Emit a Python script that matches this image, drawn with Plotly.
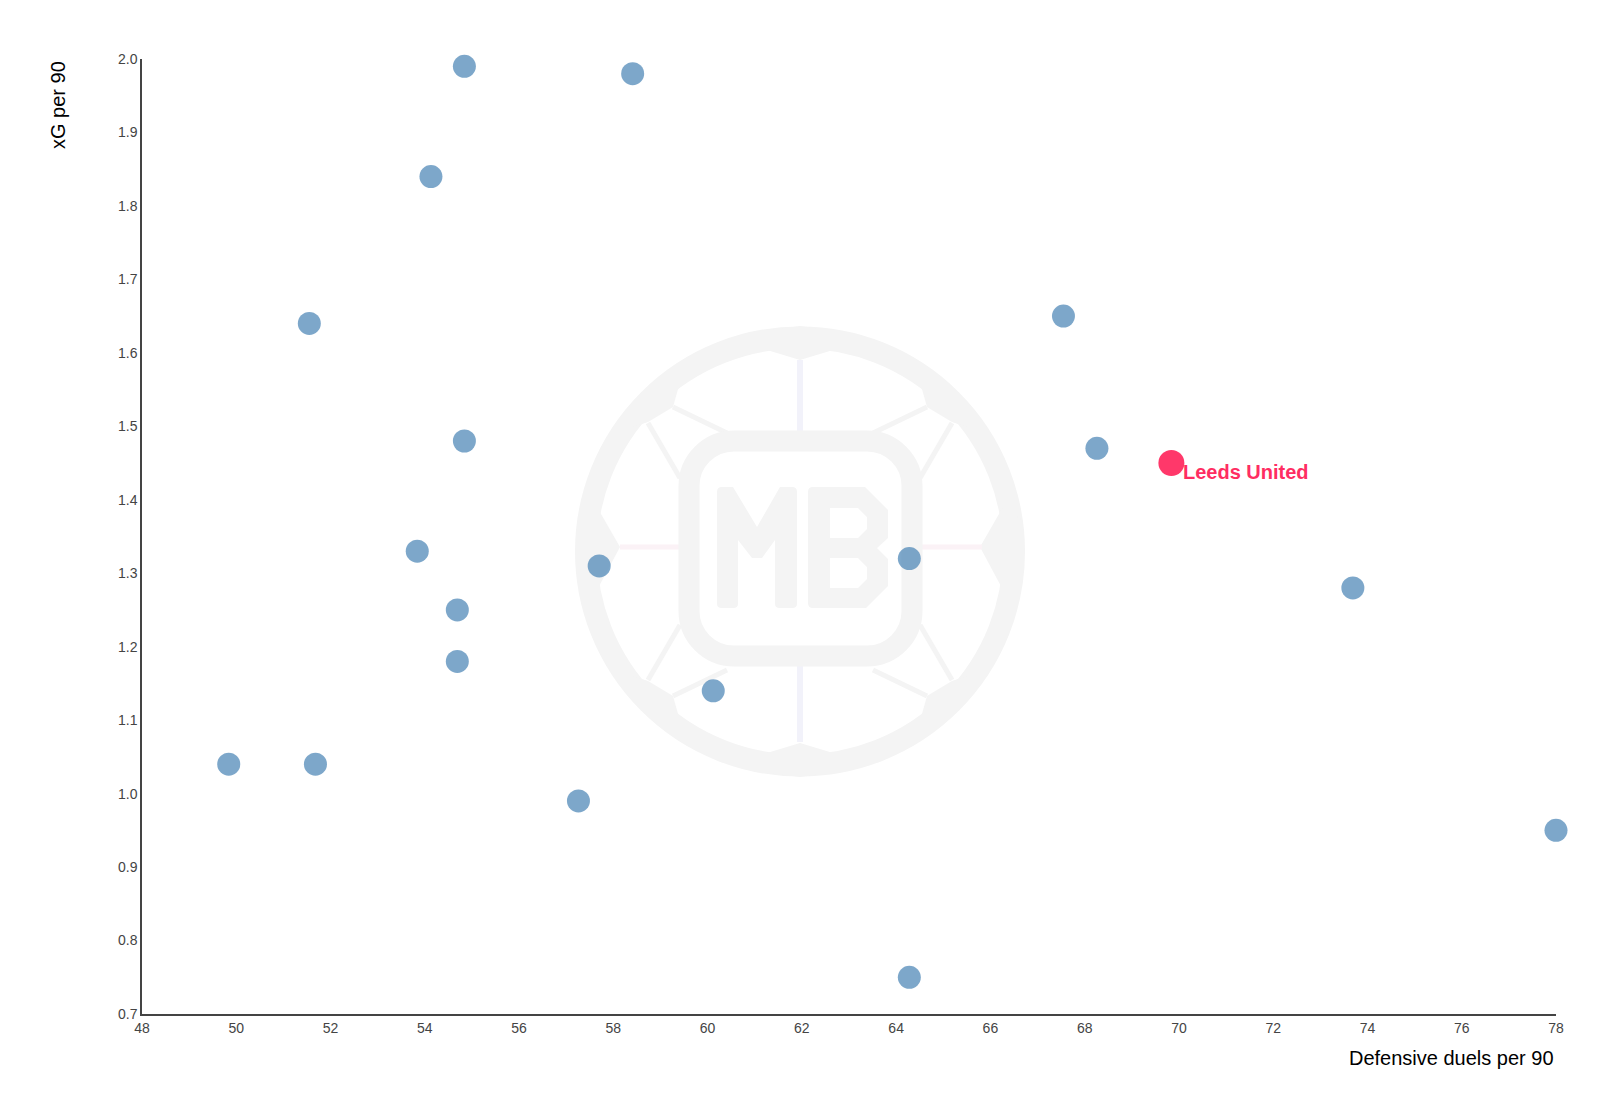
import base64
import plotly.graph_objects as go

# ---- data ----
duels = [54.84, 58.41, 54.13, 51.55, 54.84, 53.84, 57.70, 54.69, 54.69, 60.12,
         49.84, 51.68, 57.26, 64.28, 64.28, 67.55, 68.26, 73.69, 78.00]
xg = [1.99, 1.98, 1.84, 1.64, 1.48, 1.33, 1.31, 1.25, 1.18, 1.14,
      1.04, 1.04, 0.99, 1.32, 0.75, 1.65, 1.47, 1.28, 0.95]
highlight_team = "Leeds United"
highlight_duels = [69.84]
highlight_xg = [1.45]

x_range = [48, 78]
y_range = [0.7, 2.0]
x_ticks = list(range(48, 80, 2))
y_ticks = [0.7, 0.8, 0.9, 1.0, 1.1, 1.2, 1.3, 1.4, 1.5, 1.6, 1.7, 1.8, 1.9, 2.0]

W, H = 1600, 1102
OFF = 8  # page offset of the figure (body margin)
ML, MR, MT, MB = 134, 52, 51, 96
PW, PH = W - ML - MR, H - MT - MB

# ---- watermark logo (svg drawn in page pixel space, shifted into figure space) ----
G = "#f4f4f4"
svg = f'''<svg xmlns="http://www.w3.org/2000/svg" width="{W}" height="{H}" viewBox="0 0 {W} {H}">
<g transform="translate({-OFF},{-OFF})">
<circle cx="800" cy="551.5" r="214" fill="none" stroke="{G}" stroke-width="22"/>
<polygon fill="{G}" points="757,347 800,360 843,347 850,333 800,326 750,333"/>
<polygon fill="{G}" points="757,756 800,743 843,756 850,770 800,777 750,770"/>
<polygon fill="{G}" points="597,507 620,547 597,590 580,580 578,520"/>
<polygon fill="{G}" points="1003,507 980,547 1003,590 1020,580 1022,520"/>
<polygon fill="{G}" points="630,428 648,422 673,407 680,382 660,390 640,408"/>
<polygon fill="{G}" points="970,428 952,422 927,407 920,382 940,390 960,408"/>
<polygon fill="{G}" points="630,675 648,681 673,696 680,721 660,713 640,695"/>
<polygon fill="{G}" points="970,675 952,681 927,696 920,721 940,713 960,695"/>
<g stroke="{G}" stroke-width="5">
<line x1="673" y1="407" x2="727" y2="433"/><line x1="648" y1="423" x2="680" y2="478"/>
<line x1="927" y1="407" x2="873" y2="433"/><line x1="952" y1="423" x2="920" y2="478"/>
<line x1="673" y1="696" x2="727" y2="670"/><line x1="648" y1="680" x2="680" y2="625"/>
<line x1="927" y1="696" x2="873" y2="670"/><line x1="952" y1="680" x2="920" y2="625"/>
</g>
<line x1="800" y1="360" x2="800" y2="431" stroke="#f2f2fa" stroke-width="6"/>
<line x1="800" y1="666" x2="800" y2="742" stroke="#f2f2fa" stroke-width="6"/>
<line x1="620" y1="547" x2="679" y2="547" stroke="#fbf2f6" stroke-width="5"/>
<line x1="922" y1="547" x2="982" y2="547" stroke="#fbf2f6" stroke-width="5"/>
<rect x="689" y="441" width="223" height="215" rx="45" fill="none" stroke="{G}" stroke-width="21"/>
<path fill="{G}" d="M717,492 Q717,487 722,487 L733,487 L757,527 L780,487 L792,487 Q797,487 797,492 L797,604 Q797,608 792,608 L780,608 Q775,608 775,604 L775,540 L762,558 L752,558 L738,540 L738,604 Q738,608 733,608 L722,608 Q717,608 717,604 Z"/>
<path fill="{G}" fill-rule="evenodd" d="M813,487 L865,487 L888,510 L888,538 L877,548 L888,559 L888,586 L866,608 L813,608 Q808,608 808,603 L808,492 Q808,487 813,487 Z M830,508 L858,508 L867,517 L867,529 L858,538 L830,538 Z M830,558 L858,558 L867,567 L867,579 L858,588 L830,588 Z"/>
</g>
</svg>'''
svg_uri = "data:image/svg+xml;base64," + base64.b64encode(svg.encode()).decode()

fig = go.Figure()
fig.add_trace(go.Scatter(
    x=duels, y=xg, mode="markers", cliponaxis=False,
    marker=dict(size=23, color="steelblue", opacity=0.7, line=dict(width=0)),
    hoverinfo="x+y", showlegend=False,
))
fig.add_trace(go.Scatter(
    x=highlight_duels, y=highlight_xg, mode="markers", cliponaxis=False,
    marker=dict(size=26, color="#ff2d62", opacity=0.95, line=dict(width=0)),
    name=highlight_team, showlegend=False,
))
fig.add_annotation(
    x=highlight_duels[0], y=highlight_xg[0], xref="x", yref="y",
    text=f"<b>{highlight_team}</b>", showarrow=False,
    xanchor="left", yanchor="middle", xshift=10, yshift=-9,
    font=dict(family="Liberation Sans, Arial", size=20, color="#ff2d62"),
)

# axis titles
fig.add_annotation(
    text="xG per 90", xref="paper", yref="paper",
    x=(50 - ML) / PW, y=1.0, xanchor="center", yanchor="top",
    textangle=-90, showarrow=False,
    font=dict(family="Liberation Sans, Arial", size=20, color="#000"),
)
fig.add_annotation(
    text="Defensive duels per 90", xref="paper", yref="paper",
    x=1.0, y=-(1050 - (H - MB)) / PH, xanchor="right", yanchor="middle",
    showarrow=False,
    font=dict(family="Liberation Sans, Arial", size=20, color="#000"),
)

fig.add_layout_image(
    source=svg_uri, xref="paper", yref="paper",
    x=-ML / PW, y=1 + MT / PH, sizex=W / PW, sizey=H / PH,
    xanchor="left", yanchor="top", sizing="stretch", layer="below", opacity=1,
)

axis_common = dict(
    showgrid=False, zeroline=False, showline=True, linecolor="#444", linewidth=1.5,
    ticks="", tickfont=dict(family="Liberation Sans, Arial", size=14, color="#444"),
)
fig.update_xaxes(range=x_range, tickvals=x_ticks, ticktext=[str(v) for v in x_ticks], **axis_common)
fig.update_yaxes(range=y_range, tickvals=y_ticks, ticktext=[f"{v:.1f}" for v in y_ticks], **axis_common)

fig.update_layout(
    width=W, height=H,
    margin=dict(l=ML, r=MR, t=MT, b=MB),
    paper_bgcolor="white", plot_bgcolor="rgba(0,0,0,0)",
    font=dict(family="Liberation Sans, Arial"),
    showlegend=False,
)

fig.write_html("out.html")
